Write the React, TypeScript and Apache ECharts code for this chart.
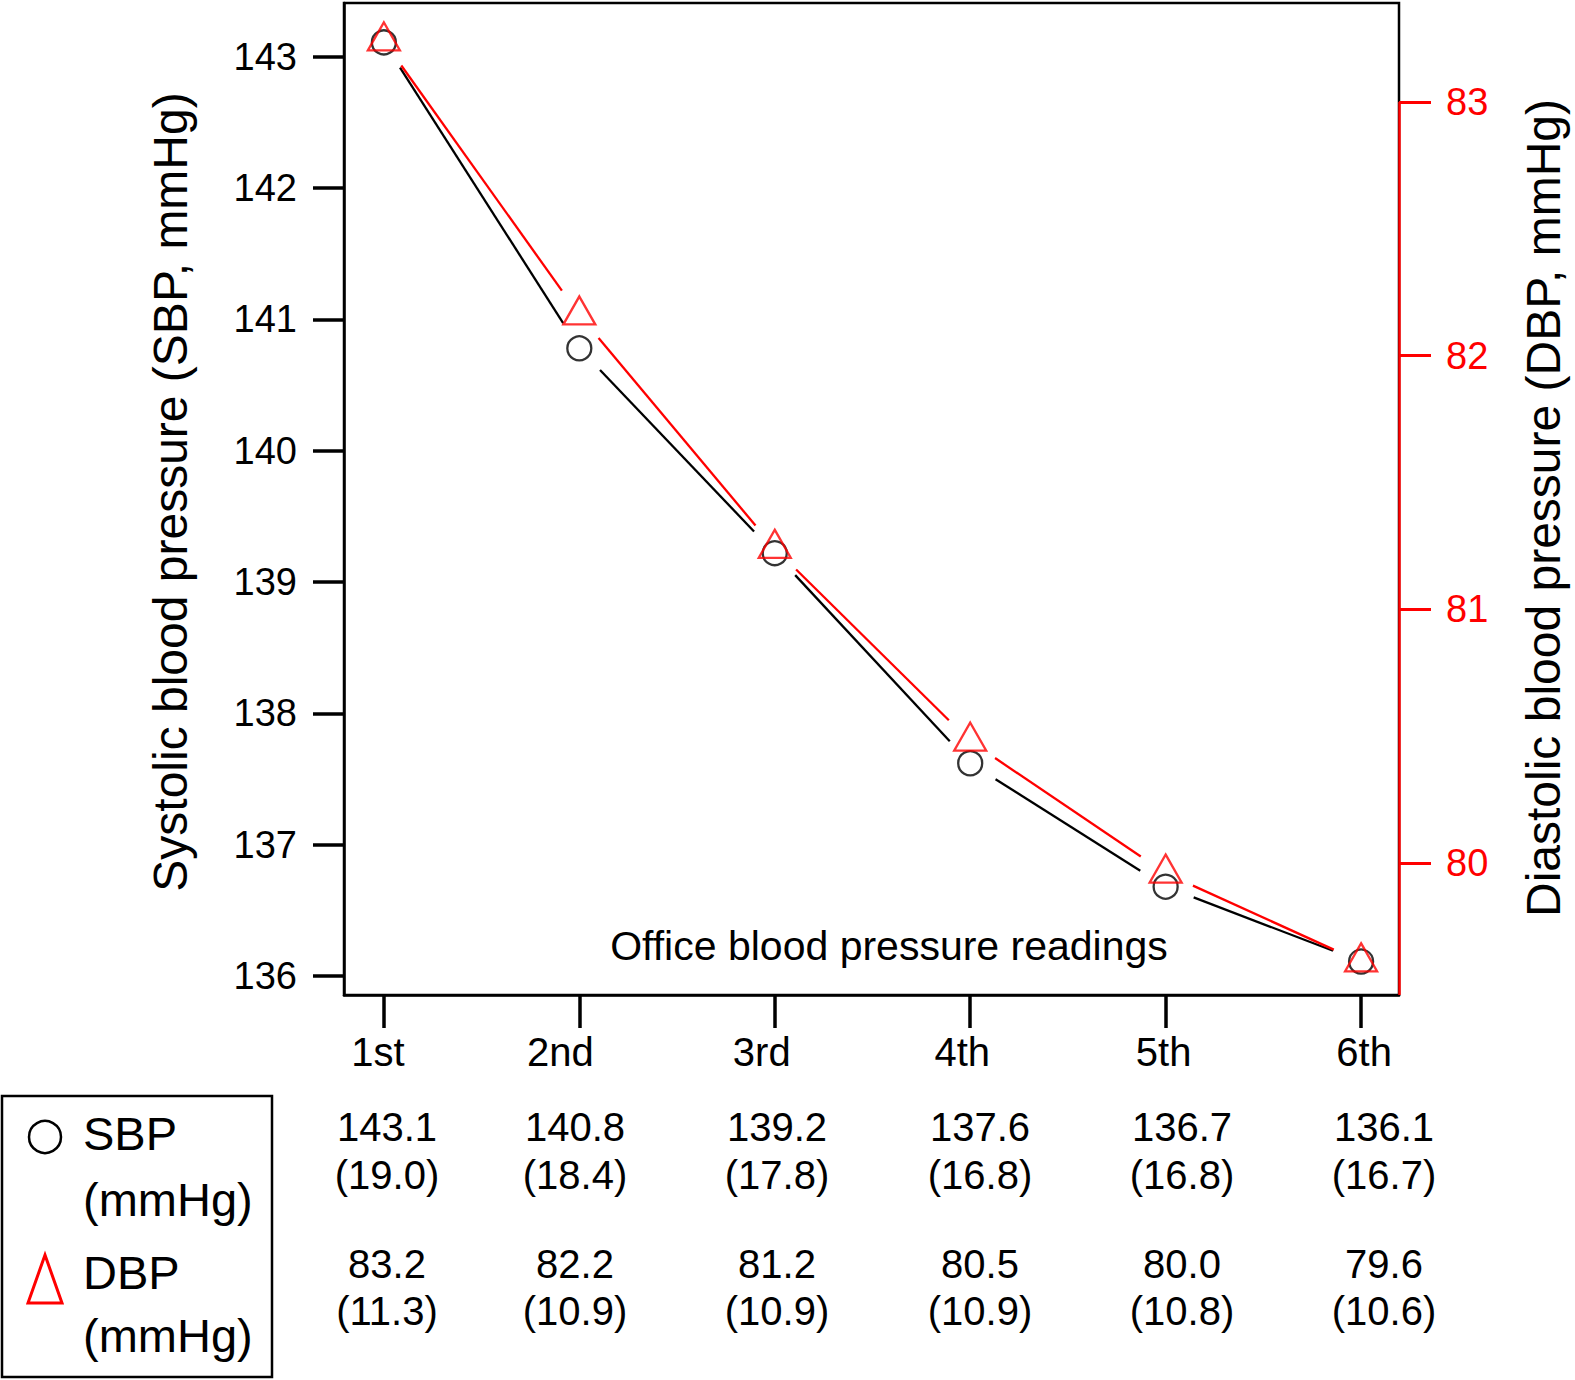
import * as echarts from 'echarts';
import { useEffect, useRef } from 'react';

const FONT = "'Liberation Sans', Arial, Helvetica, sans-serif";
const W = 1575;
const H = 1380;

// readings (x axis)
const readings = ['1st', '2nd', '3rd', '4th', '5th', '6th'];
const readingIndex = [1, 2, 3, 4, 5, 6];

// plotted means
const sbpPlot = [143.11, 140.78, 139.22, 137.62, 136.68, 136.11];
const dbpPlot = [83.24, 82.16, 81.24, 80.48, 79.96, 79.61];

// table under the plot: mean (SD)
const sbpMean = [143.1, 140.8, 139.2, 137.6, 136.7, 136.1];
const sbpSd = [19.0, 18.4, 17.8, 16.8, 16.8, 16.7];
const dbpMean = [83.2, 82.2, 81.2, 80.5, 80.0, 79.6];
const dbpSd = [11.3, 10.9, 10.9, 10.9, 10.8, 10.6];

// axis ticks
const sbpTicks = [136, 137, 138, 139, 140, 141, 142, 143];
const dbpTicks = [80, 81, 82, 83];

const X_MIN = 0.796;
const X_MAX = 6.194;
const SBP_MIN = 135.855;
const SBP_MAX = 143.41;
const DBP_MIN = 79.48;
const DBP_MAX = 83.39;

const GAP = 30;
const RED = '#ff0000';
const TRI_W = 32;
const TRI_H = 28;

// table column centres under the plot
const tableColX = [387, 575, 777, 980, 1182, 1384];
// x labels sit a little off their ticks in the original (px, + = right)
const labelShift = [-6, -19, -13, -8, -2, 3];

const segments = (vals: number[]) =>
  vals.slice(0, -1).map((v, i) => [readingIndex[i], v, readingIndex[i + 1], vals[i + 1]]);

const gappedLine = (color: string) => (params: any, api: any) => {
  const a = api.coord([api.value(0), api.value(1)]);
  const b = api.coord([api.value(2), api.value(3)]);
  const dx = b[0] - a[0];
  const dy = b[1] - a[1];
  const len = Math.hypot(dx, dy) || 1;
  const ux = dx / len;
  const uy = dy / len;
  return {
    type: 'line',
    shape: {
      x1: a[0] + ux * GAP,
      y1: a[1] + uy * GAP,
      x2: b[0] - ux * GAP,
      y2: b[1] - uy * GAP
    },
    style: { stroke: color, lineWidth: 2.3 }
  };
};

const labelRich: Record<string, any> = {};
labelShift.forEach((s, i) => {
  labelRich['l' + i] = {
    fontSize: 40,
    lineHeight: 40,
    fontFamily: FONT,
    color: '#000',
    padding: s < 0 ? [0, -2 * s, 0, 0] : [0, 0, 0, 2 * s]
  };
});

const App = () => {
  const chartRef = useRef<HTMLDivElement | null>(null);

  useEffect(() => {
    if (!chartRef.current) return;
    document.documentElement.style.overflow = 'hidden';
    document.body.style.overflow = 'hidden';
    document.body.style.margin = '0';

    const chart = echarts.init(chartRef.current, undefined, { renderer: 'svg' });

    const tableTexts: any[] = [];
    readings.forEach((_, i) => {
      const x = tableColX[i];
      const rows = [
        [sbpMean[i].toFixed(1), 1127],
        [`(${sbpSd[i].toFixed(1)})`, 1175],
        [dbpMean[i].toFixed(1), 1264],
        [`(${dbpSd[i].toFixed(1)})`, 1311]
      ];
      rows.forEach(([t, y]) => {
        tableTexts.push({
          type: 'text',
          x,
          y,
          style: {
            text: t,
            fontSize: 40,
            fontFamily: FONT,
            fill: '#000',
            align: 'center',
            verticalAlign: 'middle'
          }
        });
      });
    });

    const legendText = (t: string, y: number) => ({
      type: 'text',
      x: 83,
      y,
      style: {
        text: t,
        fontSize: 47,
        fontFamily: FONT,
        fill: '#000',
        align: 'left',
        verticalAlign: 'middle'
      }
    });

    const option: echarts.EChartsOption = {
      animation: false,
      backgroundColor: '#fff',
      textStyle: { fontFamily: FONT },
      grid: {
        left: 344,
        top: 3,
        width: 1059,
        height: 992,
        show: true,
        borderColor: '#000',
        borderWidth: 2.5,
        backgroundColor: 'transparent'
      },
      xAxis: {
        type: 'value',
        min: X_MIN,
        max: X_MAX,
        name: 'Office blood pressure readings',
        nameLocation: 'middle',
        nameGap: -70,
        nameTextStyle: {
          fontSize: 41,
          color: '#000',
          fontFamily: FONT,
          padding: [0, 0, 0, 35]
        },
        axisLine: { show: true, lineStyle: { color: '#000', width: 2.5 } },
        axisTick: {
          show: true,
          length: 33,
          customValues: readingIndex,
          lineStyle: { color: '#000', width: 3.5 }
        },
        axisLabel: {
          customValues: readingIndex,
          formatter: (v: number) => {
            const i = readingIndex.indexOf(Math.round(v));
            return i < 0 ? '' : `{l${i}|${readings[i]}}`;
          },
          rich: labelRich,
          fontSize: 40,
          lineHeight: 40,
          margin: 37,
          color: '#000',
          fontFamily: FONT
        },
        splitLine: { show: false }
      },
      yAxis: [
        {
          type: 'value',
          position: 'left',
          min: SBP_MIN,
          max: SBP_MAX,
          name: 'Systolic blood pressure (SBP, mmHg)',
          nameLocation: 'middle',
          nameRotate: 90,
          nameGap: 150,
          nameTextStyle: {
            fontSize: 48,
            lineHeight: 48,
            color: '#000',
            fontFamily: FONT,
            padding: [0, 0, 0, 14]
          },
          axisLine: { show: true, lineStyle: { color: '#000', width: 2.5 } },
          axisTick: {
            show: true,
            length: 31,
            customValues: sbpTicks,
            lineStyle: { color: '#000', width: 3.5 }
          },
          axisLabel: {
            customValues: sbpTicks,
            fontSize: 38,
            margin: 47,
            color: '#000',
            fontFamily: FONT
          },
          splitLine: { show: false }
        },
        {
          type: 'value',
          position: 'right',
          min: DBP_MIN,
          max: DBP_MAX,
          name: 'Diastolic blood pressure (DBP, mmHg)',
          nameLocation: 'middle',
          nameRotate: 90,
          nameGap: 120,
          nameTextStyle: {
            fontSize: 48,
            lineHeight: 48,
            color: '#000',
            fontFamily: FONT,
            padding: [0, 18, 0, 0]
          },
          axisLine: { show: false },
          axisTick: {
            show: true,
            length: 32,
            customValues: dbpTicks,
            lineStyle: { color: RED, width: 3 }
          },
          axisLabel: {
            customValues: dbpTicks,
            fontSize: 38,
            margin: 47,
            color: RED,
            fontFamily: FONT
          },
          splitLine: { show: false }
        }
      ],
      series: [
        {
          type: 'custom',
          name: 'SBP line',
          xAxisIndex: 0,
          yAxisIndex: 0,
          renderItem: gappedLine('#000') as any,
          encode: { x: [0, 2], y: [1, 3] },
          data: segments(sbpPlot),
          silent: true
        },
        {
          type: 'custom',
          name: 'DBP line',
          xAxisIndex: 0,
          yAxisIndex: 1,
          renderItem: gappedLine(RED) as any,
          encode: { x: [0, 2], y: [1, 3] },
          data: segments(dbpPlot),
          silent: true
        },
        {
          type: 'scatter',
          name: 'SBP',
          xAxisIndex: 0,
          yAxisIndex: 0,
          symbol: 'circle',
          symbolSize: 24,
          itemStyle: { color: 'transparent', borderColor: '#000', borderWidth: 2.3 },
          data: readingIndex.map((x, i) => [x, sbpPlot[i]]),
          z: 3
        },
        {
          type: 'scatter',
          name: 'DBP',
          xAxisIndex: 0,
          yAxisIndex: 1,
          symbol: 'triangle',
          symbolSize: [TRI_W, TRI_H],
          // centroid of the triangle sits on the point
          symbolOffset: [0, -TRI_H / 6],
          itemStyle: { color: 'transparent', borderColor: RED, borderWidth: 2.3 },
          data: readingIndex.map((x, i) => [x, dbpPlot[i]]),
          z: 4,
          markLine: {
            silent: true,
            symbol: ['none', 'none'],
            label: { show: false },
            lineStyle: { color: RED, width: 2.5, type: 'solid' },
            data: [[{ coord: [X_MAX, dbpTicks[dbpTicks.length - 1]] }, { coord: [X_MAX, DBP_MIN] }]]
          }
        }
      ],
      graphic: [
        {
          type: 'rect',
          shape: { x: 2, y: 1096, width: 270, height: 281 },
          style: { fill: 'none', stroke: '#000', lineWidth: 2.5 }
        },
        {
          type: 'circle',
          shape: { cx: 45, cy: 1137, r: 16 },
          style: { fill: 'none', stroke: '#000', lineWidth: 2.5 }
        },
        {
          type: 'polygon',
          shape: { points: [[28, 1303], [62, 1303], [45, 1255]] },
          style: { fill: 'none', stroke: RED, lineWidth: 3 }
        },
        legendText('SBP', 1133),
        legendText('(mmHg)', 1199),
        legendText('DBP', 1272),
        legendText('(mmHg)', 1335),
        ...tableTexts
      ]
    };

    chart.setOption(option);

    return () => {
      chart.dispose();
    };
  }, []);

  const sx = typeof window !== 'undefined' && window.innerWidth ? window.innerWidth / W : 1;
  const sy = typeof window !== 'undefined' && window.innerHeight ? window.innerHeight / H : 1;

  return (
    <div
      style={{
        position: 'absolute',
        left: 0,
        top: 0,
        width: W,
        height: H,
        transformOrigin: '0 0',
        transform: `scale(${sx}, ${sy})`
      }}
    >
      <div ref={chartRef} style={{ width: W, height: H, background: '#fff' }} />
    </div>
  );
};

export default App;
